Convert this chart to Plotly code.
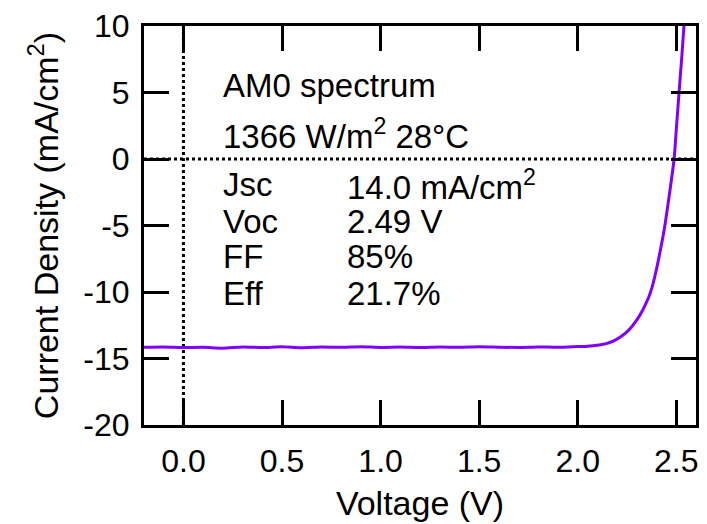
import plotly.graph_objects as go

voltage = [-0.20, -0.10, 0.00, 0.10, 0.20, 0.30, 0.40, 0.50, 0.60, 0.70, 0.80,
           0.90, 1.00, 1.10, 1.20, 1.30, 1.40, 1.50, 1.60, 1.70, 1.80, 1.90,
           2.00, 2.05, 2.10, 2.14, 2.18, 2.22, 2.26, 2.30, 2.33, 2.345, 2.36, 2.375,
           2.39, 2.405, 2.42, 2.44, 2.46, 2.475, 2.489, 2.50, 2.514, 2.527, 2.539, 2.55]
current = [-14.16, -14.14, -14.18, -14.15, -14.22, -14.13, -14.17, -14.12, -14.19, -14.14, -14.16,
           -14.11, -14.17, -14.14, -14.18, -14.13, -14.16, -14.12, -14.15, -14.17, -14.13, -14.16,
           -14.10, -14.07, -14.00, -13.90, -13.70, -13.35, -12.85, -12.10, -11.35, -10.90, -10.40, -9.75,
           -8.90, -7.90, -6.80, -5.20, -3.20, -1.60, 0.00, 2.20, 5.00, 7.50, 10.00, 12.30]

x_ticks = [0.0, 0.5, 1.0, 1.5, 2.0, 2.5]
x_tick_text = ["0.0", "0.5", "1.0", "1.5", "2.0", "2.5"]
y_ticks = [-20, -15, -10, -5, 0, 5, 10]
y_tick_text = ["-20", "-15", "-10", "-5", "0", "5", "10"]

header_lines = ["AM0 spectrum", "1366 W/m<sup>2</sup> 28°C"]
param_names = ["Jsc", "Voc", "FF", "Eff"]
param_values = ["14.0 mA/cm<sup>2</sup>", "2.49 V", "85%", "21.7%"]

FONT = "Liberation Sans, Arial, Helvetica, sans-serif"

fig = go.Figure()
fig.add_trace(go.Scatter(x=voltage, y=current, mode="lines",
                         line=dict(color="#8000FF", width=3, shape="spline", smoothing=0.6),
                         showlegend=False))

# dotted zero reference lines
fig.add_shape(type="line", xref="x", yref="paper", x0=0, x1=0, y0=0, y1=1,
              line=dict(color="black", width=3, dash="dot"), layer="below")
fig.add_shape(type="line", xref="paper", yref="y", x0=0, x1=1, y0=0, y1=0,
              line=dict(color="black", width=3, dash="dot"), layer="below")

# text block
header_y = [5.55, 1.85]
for t, yv in zip(header_lines, header_y):
    fig.add_annotation(x=0.19, y=yv, xref="x", yref="y", text=t, showarrow=False,
                       xanchor="left", yanchor="middle", font=dict(size=33, color="black", family=FONT))
row_y = [-1.95, -4.7, -7.3, -10.1]
for n, v, yv in zip(param_names, param_values, row_y):
    fig.add_annotation(x=0.19, y=yv, xref="x", yref="y", text=n, showarrow=False,
                       xanchor="left", yanchor="middle", font=dict(size=33, color="black", family=FONT))
    fig.add_annotation(x=0.82, y=yv, xref="x", yref="y", text=v, showarrow=False,
                       xanchor="left", yanchor="middle", font=dict(size=33, color="black", family=FONT))

axis_common = dict(showline=True, linecolor="black", linewidth=3, mirror="allticks",
                   ticks="inside", ticklen=25, tickwidth=3, tickcolor="black",
                   showgrid=False, zeroline=False,
                   tickfont=dict(size=32, color="black", family=FONT))

fig.update_layout(
    width=707, height=524,
    margin=dict(l=144, r=8, t=23, b=97),
    plot_bgcolor="white", paper_bgcolor="white",
    font=dict(family=FONT, color="black"),
    xaxis=dict(range=[-0.2, 2.6], tickvals=x_ticks, ticktext=x_tick_text,
               title=dict(text="Voltage (V)", font=dict(size=34), standoff=13),
               ticklabelstandoff=6, **axis_common),
    yaxis=dict(range=[-20, 10], tickvals=y_ticks, ticktext=y_tick_text,
               title=dict(text="Current Density (mA/cm<sup>2</sup>)", font=dict(size=34), standoff=15),
               ticklabelstandoff=5, **axis_common),
)

fig.write_html("out.html")
